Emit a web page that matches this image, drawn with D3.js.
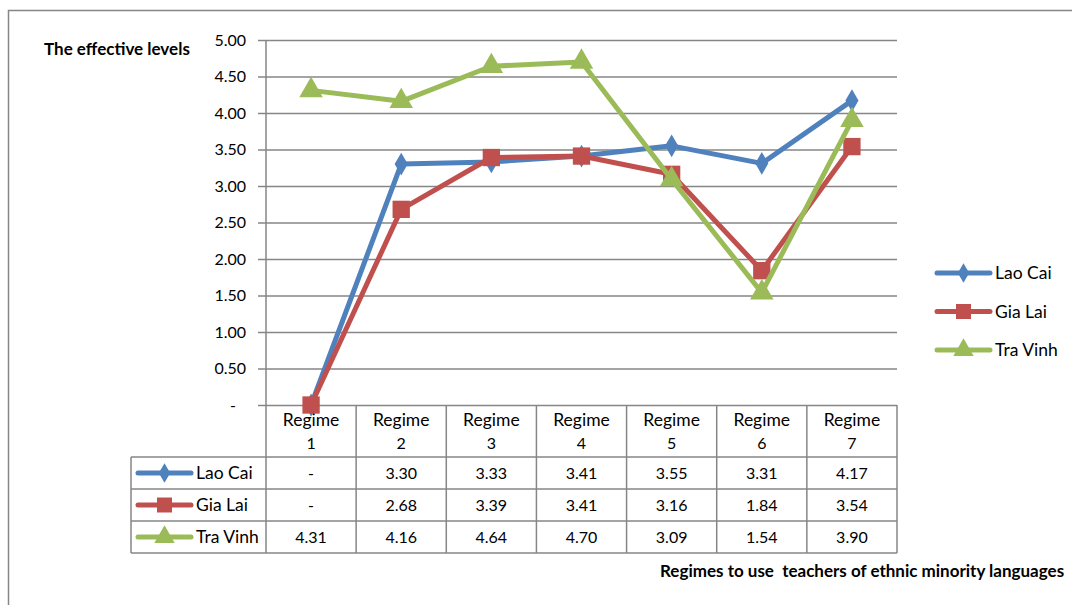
<!DOCTYPE html>
<html>
<head>
<meta charset="utf-8">
<script src="https://cdn.jsdelivr.net/npm/d3@7"></script>
<style>
  html, body { margin: 0; padding: 0; background: #fff; overflow: hidden; }
  svg { display: block; }
  text { font-family: Lato, "Open Sans", "Liberation Sans", sans-serif; fill: #000; white-space: pre; }
</style>
</head>
<body>
<svg id="chart" width="1072" height="605"></svg>
<script>
// Regimes (categories) and scores per province
const categories = ["Regime 1", "Regime 2", "Regime 3", "Regime 4", "Regime 5", "Regime 6", "Regime 7"];
const laoCai  = [0, 3.30, 3.33, 3.41, 3.55, 3.31, 4.17];
const giaLai  = [0, 2.68, 3.39, 3.41, 3.16, 1.84, 3.54];
const traVinh = [4.31, 4.16, 4.64, 4.70, 3.09, 1.54, 3.90];
const seriesNames = ["Lao Cai", "Gia Lai", "Tra Vinh"];
const yTicks = [0, 0.5, 1, 1.5, 2, 2.5, 3, 3.5, 4, 4.5, 5];

const series = [
  { name: seriesNames[0], values: laoCai,  color: "#4F81BD", symbol: d3.symbolDiamond,  size: 150 },
  { name: seriesNames[1], values: giaLai,  color: "#C0504D", symbol: d3.symbolSquare,   size: 300 },
  { name: seriesNames[2], values: traVinh, color: "#9BBB59", symbol: d3.symbolTriangle, size: 240 }
];

const fmt = v => v === 0 ? "-" : d3.format(".2f")(v);
const wordSize = 17.5, numSize = 16;

const svg = d3.select("#chart");
const plot = { left: 266, right: 897, top: 40, bottom: 405 };
const gridColor = "#868686";

// Outer chart frame
svg.append("rect")
  .attr("x", 8.5).attr("y", 10.5)
  .attr("width", 1100).attr("height", 620)
  .attr("fill", "none").attr("stroke", gridColor).attr("stroke-width", 1.5);

const x = d3.scaleBand().domain(categories).range([plot.left, plot.right]).padding(0);
const y = d3.scaleLinear().domain([0, 5]).range([plot.bottom, plot.top]);

// Horizontal gridlines and y axis
const yAxis = d3.axisLeft(y).tickValues(yTicks).tickSize(plot.right - plot.left + 8).tickFormat(fmt);
const yg = svg.append("g")
  .attr("transform", `translate(${plot.right},0)`)
  .call(yAxis);
yg.select(".domain").remove();
yg.selectAll(".tick line").attr("stroke", gridColor).attr("stroke-width", 1.5);
yg.selectAll(".tick text")
  .attr("x", -(plot.right - plot.left) - 20)
  .attr("font-size", numSize)
  .attr("font-family", "Lato, sans-serif")
  .attr("fill", "#000")
  .attr("dx", d => d === 0 ? -10 : 0);

// Vertical axis line
svg.append("line")
  .attr("x1", plot.left).attr("x2", plot.left)
  .attr("y1", plot.top).attr("y2", plot.bottom)
  .attr("stroke", gridColor).attr("stroke-width", 1.5);

// Y axis title
svg.append("text")
  .attr("x", 44).attr("y", 55)
  .attr("font-size", 17).attr("font-weight", "bold")
  .text("The effective levels");

// Data table below the plot
const rowH = 32;
const headerBottom = 457;
const tableLeft = 131;
const tg = svg.append("g").attr("stroke", gridColor).attr("stroke-width", 1.5).attr("fill", "none");
// vertical category separators through the header and rows
categories.forEach(c => {
  tg.append("line").attr("x1", x(c)).attr("x2", x(c)).attr("y1", plot.bottom).attr("y2", headerBottom + rowH * 3);
});
tg.append("line").attr("x1", plot.right).attr("x2", plot.right).attr("y1", plot.bottom).attr("y2", headerBottom + rowH * 3);
tg.append("line").attr("x1", tableLeft).attr("x2", tableLeft).attr("y1", headerBottom).attr("y2", headerBottom + rowH * 3);
// horizontal row lines
for (let i = 0; i <= 3; i++) {
  tg.append("line").attr("x1", tableLeft).attr("x2", plot.right)
    .attr("y1", headerBottom + rowH * i).attr("y2", headerBottom + rowH * i);
}

// Category headers
categories.forEach(c => {
  const [w, n] = c.split(" ");
  const cx = x(c) + x.bandwidth() / 2;
  svg.append("text").attr("x", cx).attr("y", 426).attr("text-anchor", "middle").attr("font-size", wordSize).text(w);
  svg.append("text").attr("x", cx).attr("y", 449).attr("text-anchor", "middle").attr("font-size", numSize).text(n);
});

// Legend key drawing helper
function drawKey(g, s, x0, x1, yc) {
  g.append("line").attr("x1", x0).attr("x2", x1).attr("y1", yc).attr("y2", yc)
    .attr("stroke", s.color).attr("stroke-width", 5).attr("stroke-linecap", "round");
  g.append("path").attr("d", d3.symbol().type(s.symbol).size(s.size * 0.75)())
    .attr("transform", `translate(${(x0 + x1) / 2},${yc})`).attr("fill", s.color);
}

// Table rows: key + name + values
series.forEach((s, i) => {
  const yc = headerBottom + rowH * i + rowH / 2;
  drawKey(svg, s, 138, 191, yc);
  svg.append("text").attr("x", 196).attr("y", yc + 6).attr("font-size", wordSize).text(s.name);
  s.values.forEach((v, j) => {
    svg.append("text")
      .attr("x", x(categories[j]) + x.bandwidth() / 2)
      .attr("y", yc + 6)
      .attr("text-anchor", "middle").attr("font-size", numSize)
      .text(fmt(v));
  });
});

// Series lines and markers
const line = d3.line()
  .x((d, i) => x(categories[i]) + x.bandwidth() / 2)
  .y(d => y(d));

series.forEach(s => {
  const g = svg.append("g");
  g.append("path").datum(s.values)
    .attr("d", line).attr("fill", "none")
    .attr("stroke", s.color).attr("stroke-width", 5).attr("stroke-linejoin", "round");
  g.selectAll("path.m").data(s.values).enter().append("path")
    .attr("class", "m")
    .attr("d", d3.symbol().type(s.symbol).size(s.size)())
    .attr("transform", (d, i) => `translate(${x(categories[i]) + x.bandwidth() / 2},${y(d)})`)
    .attr("fill", s.color);
});

// Legend on the right
series.forEach((s, i) => {
  const yc = 273 + i * 38.5;
  drawKey(svg, s, 937, 990, yc);
  svg.append("text").attr("x", 995).attr("y", yc + 6).attr("font-size", wordSize).text(s.name);
});

// X axis title
svg.append("text")
  .attr("x", 660).attr("y", 577)
  .attr("font-size", 17).attr("font-weight", "bold")
  .text("Regimes to use  teachers of ethnic minority languages");
</script>
</body>
</html>
